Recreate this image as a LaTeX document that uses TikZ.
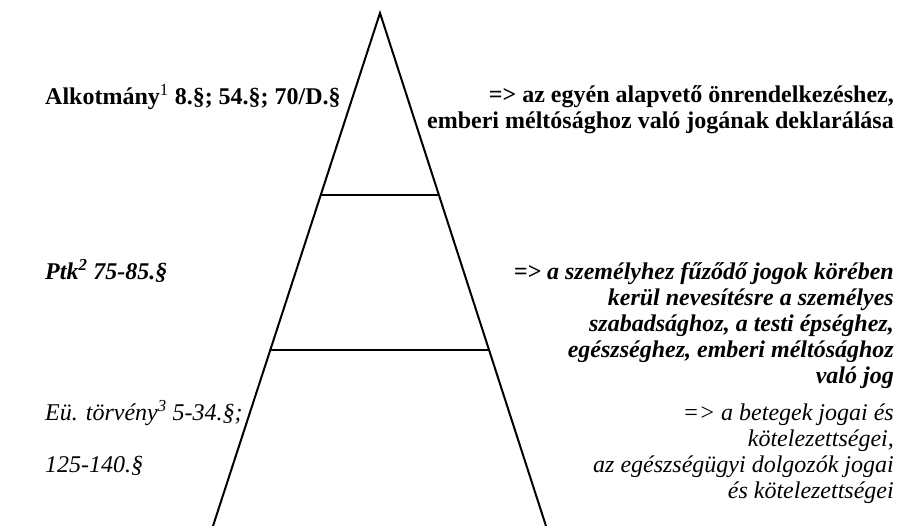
\documentclass[tikz,border=0pt]{standalone}
\usepackage{fontspec}
\setmainfont{Liberation Serif}
\usetikzlibrary{calc}

\begin{document}
\begin{tikzpicture}[x=1pt,y=-1pt,
    lawtext/.style={inner sep=0pt,font=\fontsize{24}{26}\selectfont},
    lefttext/.style={lawtext,anchor=base west},
    righttext/.style={lawtext,anchor=base east,align=right}]
        \useasboundingbox(0,0)rectangle(898,526);
        % pyramid
        \coordinate(apex)at(380,13);
        \coordinate(baseL)at(213,526);
        \coordinate(baseR)at(546,526);
        \draw[line width=2pt](baseL)--(apex)--(baseR);
        \coordinate(lvlAL)at($(apex)!182/513!(baseL)$);
        \coordinate(lvlAR)at($(apex)!182/513!(baseR)$);
        \coordinate(lvlBL)at($(apex)!337/513!(baseL)$);
        \coordinate(lvlBR)at($(apex)!337/513!(baseR)$);
        \draw[line width=1.1pt](lvlAL)--(lvlAR);
        \draw[line width=1.1pt](lvlBL)--(lvlBR);

        % left side
        \node[lefttext,font=\fontsize{24}{26}\selectfont\bfseries](alk)at(45,105)
            {Alkotmány\textsuperscript{\mdseries 1} 8.§; 54.§; 70/D.§};
        \node[lefttext,font=\fontsize{24}{26}\selectfont\bfseries\itshape](ptk)at(45,280)
            {Ptk\textsuperscript{2} 75-85.§};
        \node[lefttext,font=\fontsize{24}{26}\selectfont\itshape](eu)at(45,421)
            {Eü. törvény\textsuperscript{3} 5-34.§;};
        \node[lefttext,font=\fontsize{24}{26}\selectfont\itshape](eub)at(45,473)
            {125-140.§};

        % right side (anchored at the last line)
        \node[righttext,font=\fontsize{24}{26}\selectfont\bfseries](alkR)at(894,129)
            {=> az egyén alapvető önrendelkezéshez,\\
             emberi méltósághoz való jogának deklarálása};
        \node[righttext,font=\fontsize{24}{26}\selectfont\bfseries\itshape](ptkR)at(894,384)
            {=> a személyhez fűződő jogok körében\\
             kerül nevesítésre a személyes\\
             szabadsághoz, a testi épséghez,\\
             egészséghez, emberi méltósághoz\\
             való jog};
        \node[righttext,font=\fontsize{24}{26}\selectfont\itshape](euR)at(894,499)
            {=> a betegek jogai és\\
             kötelezettségei,\\
             az egészségügyi dolgozók jogai\\
             és kötelezettségei};
    \end{tikzpicture}
\end{document}
